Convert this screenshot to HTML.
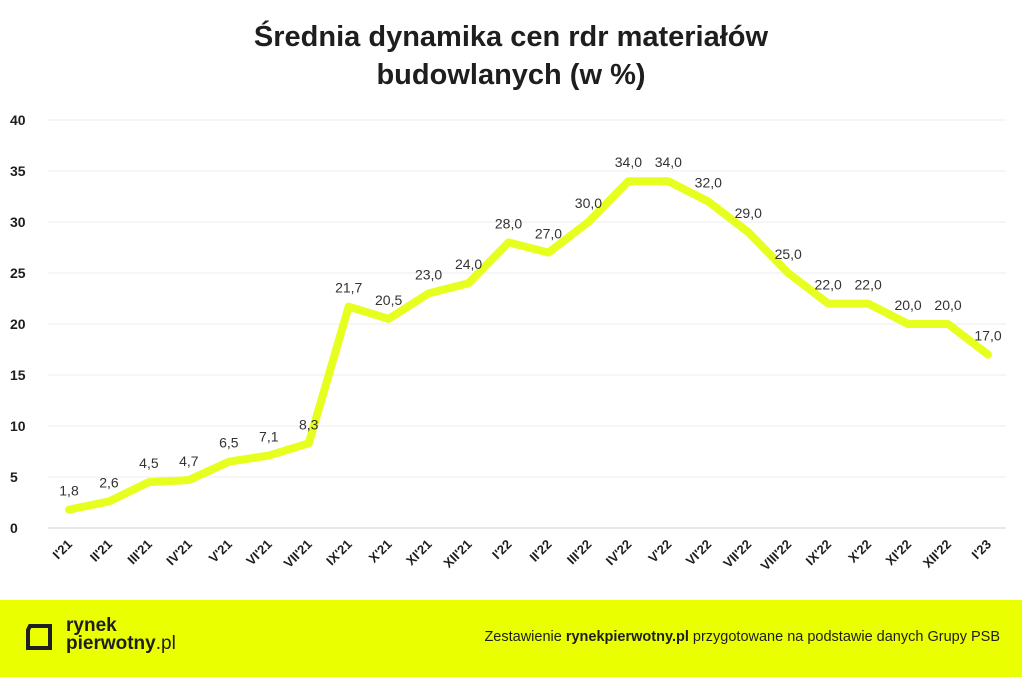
<!DOCTYPE html>
<html><head><meta charset="utf-8"><style>
body{margin:0;width:1022px;height:677px;background:#fff;font-family:"Liberation Sans",sans-serif;overflow:hidden;position:relative}
#title{position:absolute;top:18px;left:0;width:1022px;text-align:center;font-size:29px;font-weight:bold;color:#1e1e1e;line-height:38px}
#footer{position:absolute;top:600px;left:0;width:1022px;height:77px;background:#eaff00}
</style></head><body>
<div id="title">Średnia dynamika cen rdr materiałów<br>budowlanych (w %)</div>
<svg id="chart" width="1022" height="600" style="position:absolute;top:0;left:0"></svg>
<div id="footer">
<svg width="30" height="30" style="position:absolute;left:24px;top:22px"><path d="M6 4 H26 V26 H4 V8 Z" fill="none" stroke="#1e1e1e" stroke-width="4"/></svg>
<div style="position:absolute;left:66px;top:17px;font-size:19px;line-height:18px;color:#1e1e1e;font-weight:bold">rynek<br>pierwotny<span style="font-weight:normal">.pl</span></div>
<div style="position:absolute;right:22px;top:29px;font-size:14.5px;color:#1e1e1e">Zestawienie <b>rynekpierwotny.pl</b> przygotowane na podstawie danych Grupy PSB</div>
</div>
<script>
const categories=["I'21","II'21","III'21","IV'21","V'21","VI'21","VII'21","IX'21","X'21","XI'21","XII'21","I'22","II'22","III'22","IV'22","V'22","VI'22","VII'22","VIII'22","IX'22","X'22","XI'22","XII'22","I'23"];
const values=[1.8,2.6,4.5,4.7,6.5,7.1,8.3,21.7,20.5,23.0,24.0,28.0,27.0,30.0,34.0,34.0,32.0,29.0,25.0,22.0,22.0,20.0,20.0,17.0];
const yTicks=[0,5,10,15,20,25,30,35,40];
const NS="http://www.w3.org/2000/svg";
const svg=document.getElementById('chart');
const x0=69,x1=988,y0=528,y40=120;
const xs=i=>x0+i*(x1-x0)/(categories.length-1);
const ys=v=>y0-(v/40)*(y0-y40);
function mk(t,a){const e=document.createElementNS(NS,t);for(const k in a)e.setAttribute(k,a[k]);svg.appendChild(e);return e;}
yTicks.forEach(t=>{
 const l=mk('line',{x1:48,x2:1006,y1:ys(t),y2:ys(t),stroke:t===0?'#d0d0d0':'#ececec','stroke-width':1});
 
 
 const tx=mk('text',{x:10,y:ys(t)+5,'font-size':14,'font-weight':'bold',fill:'#1e1e1e'});
 tx.textContent=t;
 
 
});
const p=mk('polyline',{points:values.map((v,i)=>xs(i)+','+ys(v)).join(' '),fill:'none',stroke:'#e6ff1f','stroke-width':8,'stroke-linejoin':'round','stroke-linecap':'round'});


values.forEach((v,i)=>{
 const t=mk('text',{x:xs(i),y:ys(v)-14,'text-anchor':'middle','font-size':14,fill:'#333'});
 t.textContent=v.toFixed(1).replace('.',',');
 
 
});
categories.forEach((c,i)=>{
 const t=mk('text',{x:xs(i)+4,y:545,'text-anchor':'end','font-size':13,'font-weight':'bold',fill:'#1e1e1e',transform:`rotate(-45 ${xs(i)+4} 545)`});
 t.textContent=c;
 
 
});
</script>
</body></html>
